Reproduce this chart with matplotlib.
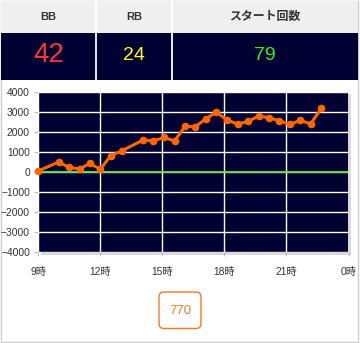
import matplotlib
matplotlib.use("Agg")
import matplotlib.pyplot as plt
from matplotlib.patches import Rectangle, FancyBboxPatch

plt.rcParams['font.family'] = ['Liberation Sans', 'Noto Sans CJK JP', 'DejaVu Sans']

# ---- data ----
headers = ["BB", "RB", "スタート回数"]
counts = ["42", "24", "79"]
count_colors = ["#ff3535", "#ffff22", "#33ee22"]
hours = [9.0, 9.98, 10.49, 11.0, 11.49, 12.0, 12.51, 13.03, 14.08, 14.57,
         15.08, 15.59, 16.11, 16.59, 17.1, 17.61, 18.13, 18.64, 19.15, 19.66,
         20.17, 20.66, 21.18, 21.66, 22.17, 22.69]
values = [50, 500, 225, 155, 425, 140, 820, 1050, 1600, 1550,
          1720, 1550, 2285, 2250, 2650, 2980, 2585, 2385, 2520, 2790,
          2700, 2550, 2370, 2570, 2400, 3170]
x_ticks = [9, 12, 15, 18, 21, 24]
x_labels = ["9時", "12時", "15時", "18時", "21時", "0時"]
y_ticks = [-4000, -3000, -2000, -1000, 0, 1000, 2000, 3000, 4000]
total_label = "770"

W, H = 360, 343
fig = plt.figure(figsize=(W / 100, H / 100), dpi=100)
fig.patch.set_facecolor("white")

bg = fig.add_axes([0, 0, 1, 1])
bg.set_xlim(0, W)
bg.set_ylim(H, 0)
bg.axis("off")

# outer border
bg.add_patch(Rectangle((0.5, 0.5), 357.5, 341, fill=False, ec="#cccccc", lw=1))

# table
col_edges = [1, 96, 172, 358]
header_sizes = [8, 8, 8.6]
for i in range(3):
    x0, x1 = col_edges[i], col_edges[i + 1]
    bg.add_patch(Rectangle((x0, 1), x1 - x0, 31.5, fc="#efefef", ec="none"))
    bg.add_patch(Rectangle((x0, 32.5), x1 - x0, 47, fc="#000033", ec="none"))
    cx = (x0 + x1) / 2
    bg.text(cx, 16.5, headers[i], ha="center", va="center",
            fontsize=header_sizes[i], fontweight="bold", color="#333333")
    bg.text(cx, 55.5, counts[i], ha="center", va="center",
            fontsize=20 if i == 0 else 14, color=count_colors[i])
for xe in col_edges[1:-1]:
    bg.plot([xe, xe], [1, 79.5], color="white", lw=1.3)

# shadow for plot
px0, px1, py0, py1 = 38.3, 348.5, 91.7, 252.3
bg.add_patch(Rectangle((px0 + 2.5, py0 + 2.5), px1 - px0, py1 - py0,
                       fc="#d9d9d9", ec="none"))

# total box
bg.add_patch(FancyBboxPatch((159, 292), 42, 36.5,
                            boxstyle="round,pad=0,rounding_size=5",
                            fc="white", ec="#f07822", lw=1))
bg.text(180, 310.5, total_label, ha="center", va="center", fontsize=9.5,
        color="#f07822")

ax = fig.add_axes([px0 / W, 1 - py1 / H, (px1 - px0) / W, (py1 - py0) / H])
ax.set_facecolor("#000033")
ax.set_xlim(9, 24)
ax.set_ylim(-4000, 4000)
ax.set_xticks(x_ticks)
ax.set_xticklabels(x_labels)
ax.set_yticks(y_ticks)
ax.grid(True, color="white", lw=1)
for s in ax.spines.values():
    s.set_visible(False)
ax.tick_params(axis="both", colors="#bbbbbb", labelcolor="#333333",
               labelsize=7.4, length=3)
ax.tick_params(axis="x", pad=7.5)
ax.tick_params(axis="y", pad=3)
ax.axhline(0, color="#66dd44", lw=1.4, zorder=3)
ax.plot(hours, values, color="#ff6600", lw=2.2, marker="o", ms=4.5,
        zorder=4, clip_on=False)

fig.savefig("out.png", dpi=100)
